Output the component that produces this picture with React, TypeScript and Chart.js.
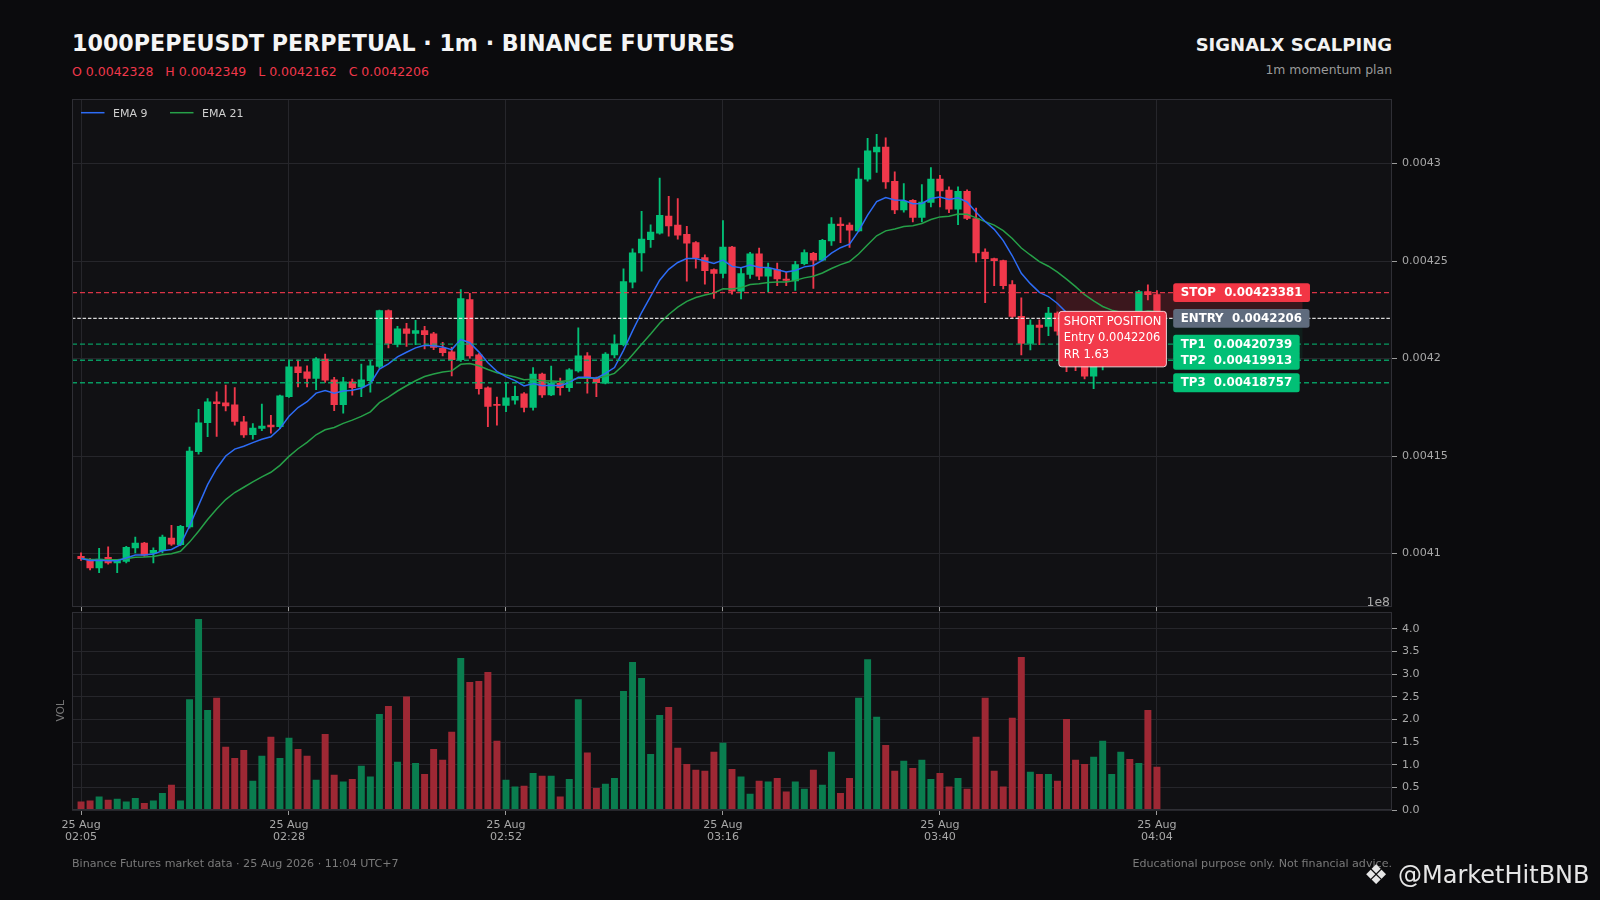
import React, { useEffect, useRef } from "react";
import { Chart, registerables } from "chart.js";

Chart.register(...registerables);

const FONT = '"DejaVu Sans", "Liberation Sans", sans-serif';

// ---------- DATA ----------
const tickIndex = [0, 23, 47, 71, 95, 119];
const tickDates = ["25 Aug", "25 Aug", "25 Aug", "25 Aug", "25 Aug", "25 Aug"];
const tickTimes = ["02:05", "02:28", "02:52", "03:16", "03:40", "04:04"];

const priceTicks = [0.0041, 0.00415, 0.0042, 0.00425, 0.0043];
const priceTickLabels = ["0.0041", "0.00415", "0.0042", "0.00425", "0.0043"];
const volTicks = [0, 0.5, 1, 1.5, 2, 2.5, 3, 3.5, 4];
const volTickLabels = ["0.0", "0.5", "1.0", "1.5", "2.0", "2.5", "3.0", "3.5", "4.0"];

const opens = [
  0.0040986, 0.0040964, 0.0040926, 0.0040981, 0.0040952, 0.0040960, 0.0041029, 0.0041053, 0.0041002, 0.0041015,
  0.0041079, 0.0041046, 0.0041137, 0.0041522, 0.0041671, 0.0041778, 0.0041773, 0.0041763, 0.0041675, 0.0041610,
  0.0041641, 0.0041659, 0.0041651, 0.0041805, 0.0041958, 0.0041932, 0.0041898, 0.0041997, 0.0041891, 0.0041764,
  0.0041881, 0.0041855, 0.0041886, 0.0041959, 0.0042246, 0.0042072, 0.0042152, 0.0042129, 0.0042143, 0.0042127,
  0.0042052, 0.0042035, 0.0041994, 0.0042302, 0.0042019, 0.0041850, 0.0041765, 0.0041759, 0.0041787, 0.0041819,
  0.0041749, 0.0041920, 0.0041814, 0.0041874, 0.0041851, 0.0041937, 0.0042014, 0.0041900, 0.0041874, 0.0042019,
  0.0042071, 0.0042391, 0.0042542, 0.0042610, 0.0042643, 0.0042730, 0.0042684, 0.0042637, 0.0042595, 0.0042518,
  0.0042456, 0.0042437, 0.0042571, 0.0042345, 0.0042431, 0.0042537, 0.0042422, 0.0042456, 0.0042408, 0.0042398,
  0.0042487, 0.0042539, 0.0042505, 0.0042603, 0.0042689, 0.0042684, 0.0042655, 0.0042920, 0.0043060, 0.0043084,
  0.0042909, 0.0042762, 0.0042811, 0.0042724, 0.0042800, 0.0042920, 0.0042864, 0.0042766, 0.0042858, 0.0042718,
  0.0042546, 0.0042512, 0.0042502, 0.0042379, 0.0042216, 0.0042077, 0.0042172, 0.0042165, 0.0042233, 0.0042140,
  0.0042050, 0.0041985, 0.0041910, 0.0041975, 0.0041985, 0.0042060, 0.0042130, 0.0042095, 0.0042343, 0.0042328,
];
const highs = [
  0.0041003, 0.0040974, 0.0041026, 0.0041034, 0.0040969, 0.0041037, 0.0041084, 0.0041058, 0.0041029, 0.0041094,
  0.0041144, 0.0041145, 0.0041546, 0.0041740, 0.0041795, 0.0041829, 0.0041864, 0.0041851, 0.0041704, 0.0041666,
  0.0041766, 0.0041709, 0.0041812, 0.0041992, 0.0041992, 0.0041963, 0.0042005, 0.0042023, 0.0041903, 0.0041903,
  0.0041895, 0.0041972, 0.0041987, 0.0042249, 0.0042250, 0.0042165, 0.0042180, 0.0042196, 0.0042165, 0.0042135,
  0.0042083, 0.0042057, 0.0042354, 0.0042335, 0.0042025, 0.0041855, 0.0041802, 0.0041877, 0.0041859, 0.0041825,
  0.0041953, 0.0041925, 0.0041961, 0.0041900, 0.0041948, 0.0042157, 0.0042031, 0.0041905, 0.0042031, 0.0042121,
  0.0042460, 0.0042563, 0.0042755, 0.0042686, 0.0042926, 0.0042832, 0.0042820, 0.0042678, 0.0042600, 0.0042532,
  0.0042460, 0.0042708, 0.0042576, 0.0042468, 0.0042545, 0.0042566, 0.0042489, 0.0042489, 0.0042443, 0.0042499,
  0.0042558, 0.0042545, 0.0042611, 0.0042723, 0.0042723, 0.0042696, 0.0042977, 0.0043129, 0.0043150, 0.0043132,
  0.0042958, 0.0042897, 0.0042815, 0.0042892, 0.0042979, 0.0042940, 0.0042880, 0.0042880, 0.0042865, 0.0042771,
  0.0042563, 0.0042515, 0.0042505, 0.0042400, 0.0042311, 0.0042198, 0.0042198, 0.0042263, 0.0042240, 0.0042150,
  0.0042060, 0.0041995, 0.0041985, 0.0042010, 0.0042070, 0.0042140, 0.0042150, 0.0042350, 0.0042378, 0.0042349,
];
const lows = [
  0.0040964, 0.0040916, 0.0040902, 0.0040945, 0.0040902, 0.0040952, 0.0041003, 0.0040985, 0.0040952, 0.0041003,
  0.0041041, 0.0041040, 0.0041130, 0.0041510, 0.0041599, 0.0041601, 0.0041731, 0.0041658, 0.0041596, 0.0041586,
  0.0041630, 0.0041617, 0.0041640, 0.0041800, 0.0041855, 0.0041855, 0.0041840, 0.0041877, 0.0041732, 0.0041720,
  0.0041812, 0.0041805, 0.0041828, 0.0041950, 0.0042054, 0.0042060, 0.0042062, 0.0042071, 0.0042049, 0.0042045,
  0.0042014, 0.0041911, 0.0041985, 0.0042002, 0.0041817, 0.0041651, 0.0041658, 0.0041728, 0.0041766, 0.0041726,
  0.0041735, 0.0041800, 0.0041810, 0.0041812, 0.0041831, 0.0041930, 0.0041823, 0.0041804, 0.0041870, 0.0042005,
  0.0042065, 0.0042362, 0.0042448, 0.0042570, 0.0042638, 0.0042628, 0.0042612, 0.0042397, 0.0042463, 0.0042381,
  0.0042308, 0.0042413, 0.0042330, 0.0042306, 0.0042411, 0.0042404, 0.0042340, 0.0042374, 0.0042374, 0.0042349,
  0.0042480, 0.0042359, 0.0042500, 0.0042580, 0.0042594, 0.0042570, 0.0042650, 0.0042909, 0.0042954, 0.0042872,
  0.0042743, 0.0042751, 0.0042700, 0.0042700, 0.0042777, 0.0042777, 0.0042748, 0.0042686, 0.0042712, 0.0042495,
  0.0042286, 0.0042374, 0.0042357, 0.0042210, 0.0042019, 0.0042044, 0.0042071, 0.0042117, 0.0042120, 0.0041933,
  0.0041938, 0.0041896, 0.0041846, 0.0041942, 0.0041970, 0.0042040, 0.0042080, 0.0042090, 0.0042300, 0.0042162,
];
const closes = [
  0.0040974, 0.0040926, 0.0040972, 0.0040952, 0.0040964, 0.0041032, 0.0041053, 0.0040991, 0.0041017, 0.0041084,
  0.0041048, 0.0041140, 0.0041526, 0.0041670, 0.0041778, 0.0041769, 0.0041757, 0.0041677, 0.0041608, 0.0041643,
  0.0041654, 0.0041649, 0.0041809, 0.0041958, 0.0041928, 0.0041898, 0.0041999, 0.0041889, 0.0041764, 0.0041881,
  0.0041851, 0.0041891, 0.0041963, 0.0042246, 0.0042078, 0.0042152, 0.0042129, 0.0042143, 0.0042122, 0.0042057,
  0.0042030, 0.0041994, 0.0042307, 0.0042014, 0.0041846, 0.0041754, 0.0041760, 0.0041798, 0.0041806, 0.0041749,
  0.0041920, 0.0041814, 0.0041874, 0.0041851, 0.0041942, 0.0042014, 0.0041906, 0.0041876, 0.0042023, 0.0042074,
  0.0042395, 0.0042542, 0.0042612, 0.0042648, 0.0042735, 0.0042680, 0.0042633, 0.0042592, 0.0042516, 0.0042451,
  0.0042437, 0.0042571, 0.0042345, 0.0042436, 0.0042537, 0.0042422, 0.0042463, 0.0042408, 0.0042400, 0.0042482,
  0.0042543, 0.0042505, 0.0042606, 0.0042689, 0.0042681, 0.0042658, 0.0042920, 0.0043065, 0.0043084, 0.0042906,
  0.0042762, 0.0042806, 0.0042724, 0.0042802, 0.0042920, 0.0042859, 0.0042766, 0.0042858, 0.0042718, 0.0042541,
  0.0042512, 0.0042502, 0.0042374, 0.0042216, 0.0042077, 0.0042172, 0.0042160, 0.0042233, 0.0042140, 0.0042050,
  0.0041985, 0.0041910, 0.0041975, 0.0041985, 0.0042060, 0.0042130, 0.0042095, 0.0042343, 0.0042328, 0.0042206,
];
// volume in units of 1e8
const volumes = [
  0.18, 0.20, 0.29, 0.22, 0.24, 0.18, 0.26, 0.15, 0.20, 0.37,
  0.55, 0.20, 2.44, 4.21, 2.20, 2.47, 1.39, 1.14, 1.32, 0.64,
  1.19, 1.61, 1.14, 1.59, 1.34, 1.19, 0.66, 1.67, 0.77, 0.62,
  0.68, 0.97, 0.73, 2.11, 2.29, 1.06, 2.50, 1.03, 0.79, 1.34,
  1.10, 1.72, 3.35, 2.82, 2.84, 3.04, 1.52, 0.66, 0.51, 0.53,
  0.81, 0.75, 0.75, 0.29, 0.68, 2.44, 1.26, 0.48, 0.57, 0.70,
  2.62, 3.26, 2.91, 1.23, 2.09, 2.27, 1.37, 1.01, 0.88, 0.86,
  1.28, 1.48, 0.90, 0.73, 0.35, 0.64, 0.62, 0.70, 0.40, 0.62,
  0.46, 0.88, 0.55, 1.28, 0.37, 0.70, 2.47, 3.32, 2.05, 1.43,
  0.86, 1.08, 0.92, 1.10, 0.68, 0.81, 0.51, 0.70, 0.46, 1.61,
  2.47, 0.86, 0.51, 2.03, 3.37, 0.84, 0.79, 0.79, 0.64, 2.00,
  1.10, 1.01, 1.17, 1.52, 0.79, 1.28, 1.12, 1.03, 2.20, 0.95,
];

const levelNames = ["STOP", "ENTRY", "TP1", "TP2", "TP3"];
const levelValues = [0.00423381, 0.0042206, 0.00420739, 0.00419913, 0.00418757];
const levelLabels = ["0.00423381", "0.0042206", "0.00420739", "0.00419913", "0.00418757"];
const positionLines = ["SHORT POSITION", "Entry 0.0042206", "RR 1.63"];
const emaSpans = [9, 21];
const emaNames = ["EMA 9", "EMA 21"];

// ---------- STYLE ----------
const PAGE_BG = "#0b0b0d";
const PLOT_BG = "#111114";
const GRID = "#26262b";
const SPINE = "#2f2f35";
const TICK_MARK = "#9c9c9c";
const TICK_TEXT = "#a8a8a8";
const GREEN = "#02c076";
const RED = "#f0384b";
const VOL_GREEN = "#0a7d4f";
const VOL_RED = "#9e2834";
const EMA_COLORS = ["#2d6cf6", "#26a048"];
const LEVEL_STYLE: any = {
  STOP: { line: "#f0384b", dash: [5, 3], fill: "#f23645" },
  ENTRY: { line: "#f0f0f0", dash: [3.5, 1.8], fill: "#5f6b7d" },
  TP: { line: "#06b36f", dash: [5, 3], fill: "#02c076" },
};
const X_MIN = -1;
const X_MAX = 145;
const PRICE_MIN = 0.0040724;
const PRICE_MAX = 0.0043331;
const VOL_MAX = 4.38;
const ZONE_START = 107.85;
const ZONE_END = 135.1;
const LABEL_START = 120.8;
const BOX_START = 108.15;

function emaOf(values: number[], span: number): number[] {
  const k = 2 / (span + 1);
  const out: number[] = [];
  let prev = values[0];
  values.forEach((v, i) => {
    prev = i === 0 ? v : v * k + prev * (1 - k);
    out.push(prev);
  });
  return out;
}

function roundRect(ctx: any, x: number, y: number, w: number, h: number, r: number) {
  ctx.beginPath();
  ctx.moveTo(x + r, y);
  ctx.lineTo(x + w - r, y);
  ctx.quadraticCurveTo(x + w, y, x + w, y + r);
  ctx.lineTo(x + w, y + h - r);
  ctx.quadraticCurveTo(x + w, y + h, x + w - r, y + h);
  ctx.lineTo(x + r, y + h);
  ctx.quadraticCurveTo(x, y + h, x, y + h - r);
  ctx.lineTo(x, y + r);
  ctx.quadraticCurveTo(x, y, x + r, y);
  ctx.closePath();
}

const bgPlugin = {
  id: "plotBg",
  beforeDraw(chart: any) {
    const { ctx, chartArea: a } = chart;
    ctx.save();
    ctx.fillStyle = PLOT_BG;
    ctx.fillRect(a.left, a.top, a.right - a.left, a.bottom - a.top);
    ctx.restore();
  },
  afterDraw(chart: any) {
    const { ctx, chartArea: a } = chart;
    ctx.save();
    ctx.strokeStyle = SPINE;
    ctx.lineWidth = 1;
    ctx.strokeRect(Math.round(a.left) + 0.5, Math.round(a.top) + 0.5, Math.round(a.right - a.left) - 1, Math.round(a.bottom - a.top) - 1);
    ctx.restore();
  },
};

const priceDecor = {
  id: "priceDecor",
  beforeDatasetsDraw(chart: any) {
    const { ctx } = chart;
    const xs = chart.scales.x, ys = chart.scales.y;
    const x0 = xs.getPixelForValue(ZONE_START);
    const x1 = xs.getPixelForValue(ZONE_END);
    const yStop = ys.getPixelForValue(levelValues[0]);
    const yEntry = ys.getPixelForValue(levelValues[1]);
    const yTp2 = ys.getPixelForValue(levelValues[3]);
    ctx.save();
    ctx.fillStyle = "rgba(242,54,69,0.19)";
    ctx.fillRect(x0, yStop, x1 - x0, yEntry - yStop);
    ctx.fillStyle = "rgba(2,192,118,0.08)";
    ctx.fillRect(x0, yEntry, x1 - x0, yTp2 - yEntry);
    ctx.restore();
  },
  afterDatasetsDraw(chart: any) {
    const { ctx, chartArea: a } = chart;
    const xs = chart.scales.x, ys = chart.scales.y;
    ctx.save();
    // level lines
    levelNames.forEach((name, k) => {
      const st = LEVEL_STYLE[name.startsWith("TP") ? "TP" : name];
      const y = ys.getPixelForValue(levelValues[k]);
      ctx.strokeStyle = st.line;
      ctx.globalAlpha = name.startsWith("TP") ? 0.85 : 0.9;
      ctx.lineWidth = 1.3;
      ctx.setLineDash(st.dash);
      ctx.beginPath();
      ctx.moveTo(a.left, y);
      ctx.lineTo(a.right, y);
      ctx.stroke();
    });
    ctx.globalAlpha = 1;
    ctx.setLineDash([]);

    // short position box
    const yEntry = ys.getPixelForValue(levelValues[1]);
    const bx = xs.getPixelForValue(BOX_START);
    const by = yEntry - 7;
    ctx.font = `11.5px ${FONT}`;
    const tw = Math.max(...positionLines.map((t) => ctx.measureText(t).width));
    const bw = tw + 10;
    const bh = 55.5;
    roundRect(ctx, bx, by, bw, bh, 3);
    ctx.fillStyle = "#f23a4b";
    ctx.fill();
    ctx.strokeStyle = "rgba(255,235,238,0.85)";
    ctx.lineWidth = 1;
    ctx.stroke();
    ctx.fillStyle = "#ffffff";
    ctx.textAlign = "left";
    ctx.textBaseline = "middle";
    positionLines.forEach((t, i) => ctx.fillText(t, bx + 5, by + 10.5 + i * 16.5));

    // level labels
    const lx = xs.getPixelForValue(LABEL_START);
    ctx.font = `bold 11.8px ${FONT}`;
    levelNames.forEach((name, k) => {
      const st = LEVEL_STYLE[name.startsWith("TP") ? "TP" : name];
      const text = `${name}  ${levelLabels[k]}`;
      const w = ctx.measureText(text).width + 15;
      const y = ys.getPixelForValue(levelValues[k]);
      roundRect(ctx, lx, y - 9.4, w, 18.8, 2.5);
      ctx.fillStyle = st.fill;
      ctx.fill();
      ctx.fillStyle = "#ffffff";
      ctx.textBaseline = "middle";
      ctx.fillText(text, lx + 7.5, y + 0.5);
    });

    // legend
    const legendX = [a.left + 9, a.left + 98];
    emaNames.forEach((nm, k) => {
      const x = legendX[k];
      ctx.strokeStyle = EMA_COLORS[k];
      ctx.lineWidth = 1.5;
      ctx.beginPath();
      ctx.moveTo(x, a.top + 13.7);
      ctx.lineTo(x + 23.5, a.top + 13.7);
      ctx.stroke();
      ctx.fillStyle = "#cfcfcf";
      ctx.font = `11px ${FONT}`;
      ctx.textBaseline = "alphabetic";
      ctx.fillText(nm, x + 32, a.top + 17.8);
    });
    ctx.restore();
  },
  afterDraw(chart: any) {
    const { ctx, chartArea: a } = chart;
    ctx.save();
    ctx.fillStyle = TICK_TEXT;
    ctx.font = `12.4px ${FONT}`;
    ctx.textAlign = "right";
    ctx.textBaseline = "alphabetic";
    ctx.fillText("1e8", a.right - 2, a.bottom - 1);
    ctx.restore();
  },
};

const volDecor = {
  id: "volDecor",
  afterDraw(chart: any) {
    const { ctx, chartArea: a } = chart;
    ctx.save();
    ctx.translate(a.left - 11, (a.top + a.bottom) / 2);
    ctx.rotate(-Math.PI / 2);
    ctx.fillStyle = "#777777";
    ctx.font = `10.7px ${FONT}`;
    ctx.textAlign = "center";
    ctx.textBaseline = "middle";
    ctx.fillText("VOL", 0, 0);
    ctx.restore();
  },
};

function xAxis(showLabels: boolean, height: number, tickLen: number) {
  return {
    type: "linear",
    min: X_MIN,
    max: X_MAX,
    offset: false,
    grid: { color: GRID, tickColor: TICK_MARK, tickLength: tickLen, offset: false, lineWidth: 1 },
    border: { display: false },
    ticks: {
      display: showLabels,
      autoSkip: false,
      maxRotation: 0,
      minRotation: 0,
      padding: 5,
      color: TICK_TEXT,
      font: { family: FONT, size: 11.1, lineHeight: 1.0 },
      callback: (v: any) => {
        const k = tickIndex.indexOf(v);
        return k >= 0 ? [tickDates[k], tickTimes[k]] : "";
      },
    },
    afterBuildTicks: (s: any) => {
      s.ticks = tickIndex.map((v) => ({ value: v }));
    },
    afterFit: (s: any) => {
      s.height = height;
    },
  };
}

function yAxis(min: number, max: number, ticks: number[], labels: string[]) {
  return {
    type: "linear",
    position: "right",
    min,
    max,
    grid: { color: GRID, tickColor: TICK_MARK, tickLength: 5, lineWidth: 1 },
    border: { display: false },
    ticks: {
      color: TICK_TEXT,
      padding: 5,
      font: { family: FONT, size: 11.1 },
      callback: (v: any) => {
        const k = ticks.indexOf(v);
        return k >= 0 ? labels[k] : "";
      },
    },
    afterBuildTicks: (s: any) => {
      s.ticks = ticks.map((v) => ({ value: v }));
    },
    afterFit: (s: any) => {
      s.width = 208;
    },
  };
}

export default function App() {
  const priceRef = useRef<HTMLCanvasElement>(null);
  const volRef = useRef<HTMLCanvasElement>(null);

  useEffect(() => {
    const idx = closes.map((_, i) => i);
    const up = closes.map((c, i) => c >= opens[i]);
    const candleColors = up.map((u) => (u ? GREEN : RED));
    const volColors = up.map((u) => (u ? VOL_GREEN : VOL_RED));
    const emas = emaSpans.map((s) => emaOf(closes, s));

    const price = new Chart(priceRef.current as any, {
      type: "bar",
      data: {
        datasets: [
          ...emas.map((e, k) => ({
            type: "line",
            label: emaNames[k],
            data: idx.map((i) => ({ x: i, y: e[i] })),
            borderColor: EMA_COLORS[k],
            borderWidth: 1.5,
            pointRadius: 0,
            tension: 0,
            order: k,
          })),
          {
            type: "bar",
            label: "body",
            data: idx.map((i) => ({ x: i, y: [opens[i], closes[i]] })),
            backgroundColor: candleColors,
            barThickness: 6.6,
            minBarLength: 1,
            grouped: false,
            order: 2,
          },
          {
            type: "bar",
            label: "wick",
            data: idx.map((i) => ({ x: i, y: [lows[i], highs[i]] })),
            backgroundColor: candleColors,
            barThickness: 1.2,
            grouped: false,
            order: 3,
          },
        ] as any,
      },
      options: {
        animation: false,
        responsive: false,
        events: [],
        layout: { padding: { left: 72, top: 99, right: 0, bottom: 2 }, autoPadding: false },
        plugins: { legend: { display: false }, tooltip: { enabled: false } },
        scales: {
          x: xAxis(false, 4, 4) as any,
          y: yAxis(PRICE_MIN, PRICE_MAX, priceTicks, priceTickLabels) as any,
        },
      } as any,
      plugins: [bgPlugin, priceDecor],
    });

    const vol = new Chart(volRef.current as any, {
      type: "bar",
      data: {
        datasets: [
          {
            label: "Volume",
            data: idx.map((i) => ({ x: i, y: volumes[i] })),
            backgroundColor: volColors,
            barThickness: 6.3,
            grouped: false,
          },
        ] as any,
      },
      options: {
        animation: false,
        responsive: false,
        events: [],
        layout: { padding: { left: 72, top: 11, right: 0, bottom: 0 }, autoPadding: false },
        plugins: { legend: { display: false }, tooltip: { enabled: false } },
        scales: {
          x: xAxis(true, 50, 5) as any,
          y: yAxis(0, VOL_MAX, volTicks, volTickLabels) as any,
        },
      } as any,
      plugins: [bgPlugin, volDecor],
    });

    return () => {
      price.destroy();
      vol.destroy();
    };
  }, []);

  const text = (content: string, style: any) => (
    <div
      style={{
        position: "absolute",
        whiteSpace: "pre",
        lineHeight: 1,
        fontFamily: FONT,
        ...style,
      }}
    >
      {content}
    </div>
  );

  return (
    <div
      style={{
        position: "relative",
        width: 1600,
        height: 900,
        background: PAGE_BG,
        overflow: "hidden",
      }}
    >
      <style>{`html,body{margin:0;padding:0;background:${PAGE_BG};}`}</style>
      {text("1000PEPEUSDT PERPETUAL · 1m · BINANCE FUTURES", {
        left: 72,
        top: 31.7,
        fontSize: 22.2,
        fontWeight: "bold",
        color: "#f5f5f5",
      })}
      {text("O 0.0042328   H 0.0042349   L 0.0042162   C 0.0042206", {
        left: 72,
        top: 66,
        fontSize: 12.5,
        color: "#f0384b",
      })}
      {text("SIGNALX SCALPING", {
        right: 208,
        top: 35.5,
        fontSize: 18,
        fontWeight: "bold",
        color: "#f2f2f2",
        textAlign: "right",
      })}
      {text("1m momentum plan", {
        right: 208,
        top: 63.5,
        fontSize: 12.4,
        color: "#9a9a9a",
        textAlign: "right",
      })}
      <canvas
        ref={priceRef}
        width={1600}
        height={619}
        style={{ position: "absolute", left: 0, top: 0, width: 1600, height: 619 }}
      />
      <canvas
        ref={volRef}
        width={1600}
        height={260}
        style={{ position: "absolute", left: 0, top: 600, width: 1600, height: 260 }}
      />
      {text("Binance Futures market data · 25 Aug 2026 · 11:04 UTC+7", {
        left: 72,
        top: 858.3,
        fontSize: 11.1,
        color: "#7a7a7a",
      })}
      {text("Educational purpose only. Not financial advice.", {
        right: 208,
        top: 858.3,
        fontSize: 11.1,
        color: "#7a7a7a",
        textAlign: "right",
      })}
      {text("❖", {
        left: 1364,
        top: 861,
        fontSize: 27,
        color: "#e6e6e6",
      })}
      {text("@MarketHitBNB", {
        left: 1398,
        top: 863,
        fontSize: 24,
        color: "#e6e6e6",
      })}
    </div>
  );
}
